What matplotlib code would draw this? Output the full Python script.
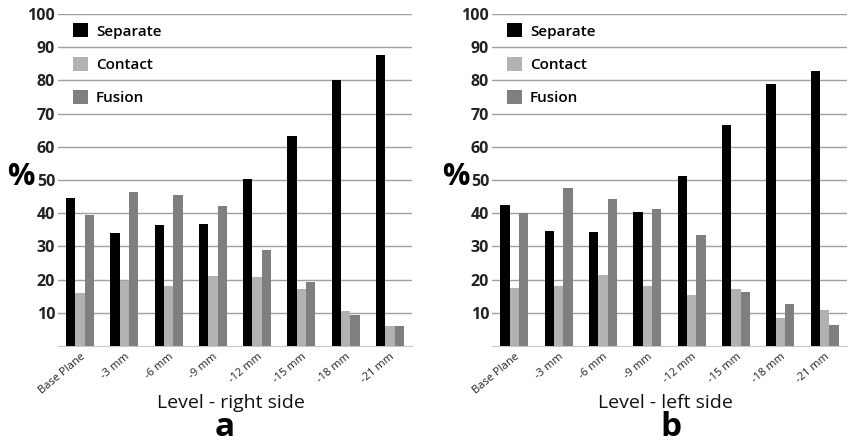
import numpy as np
import matplotlib
matplotlib.use("Agg")
import matplotlib.pyplot as plt

levels = ["Base Plane", "-3 mm", "-6 mm", "-9 mm", "-12 mm", "-15 mm", "-18 mm", "-21 mm"]
series = ["Separate", "Contact", "Fusion"]
colors = ["#000000", "#b2b2b2", "#7f7f7f"]

right_separate = [44.5, 34.0, 36.5, 36.8, 50.2, 63.2, 80.0, 87.7]
right_contact = [16.0, 19.5, 18.0, 21.0, 20.8, 17.3, 10.6, 6.1]
right_fusion = [39.5, 46.5, 45.5, 42.2, 28.9, 19.4, 9.4, 6.1]

left_separate = [42.5, 34.5, 34.2, 40.4, 51.1, 66.5, 79.0, 82.9]
left_contact = [17.5, 18.0, 21.5, 18.2, 15.5, 17.3, 8.4, 10.7]
left_fusion = [40.0, 47.5, 44.2, 41.4, 33.4, 16.2, 12.6, 6.4]

plt.rcParams['font.family'] = ['Open Sans', 'DejaVu Sans']

fig = plt.figure(figsize=(8.48, 4.42), dpi=100)
W, H = 848, 442

# (axes left px, axes right px, x label, letter, letter x px, % x px, data)
panels = [
    (58, 412, "Level - right side", "a", 225, 21, [right_separate, right_contact, right_fusion]),
    (492, 847, "Level - left side", "b", 671, 456, [left_separate, left_contact, left_fusion]),
]

y_top, y_bot = 14, 346
x = np.arange(len(levels))
bw = 0.21

for x0, x1, xlabel, letter, lx, px, data in panels:
    ax = fig.add_axes([x0 / W, 1 - y_bot / H, (x1 - x0) / W, (y_bot - y_top) / H])
    for k, (vals, name, col) in enumerate(zip(data, series, colors)):
        ax.bar(x + (k - 1) * bw, vals, width=bw, color=col, label=name, zorder=3)
    ax.set_xlim(-0.5, len(levels) - 0.5)
    ax.set_ylim(0, 100)
    ax.set_yticks(range(10, 101, 10))
    ax.set_yticklabels([str(v) for v in range(10, 101, 10)], fontsize=11.5,
                       fontweight='bold', color='#222222')
    ax.set_xticks(x)
    ax.set_xticklabels(levels, rotation=40, ha='right', rotation_mode='anchor',
                       fontsize=8, color='#222222')
    ax.tick_params(axis='y', length=0, pad=2)
    ax.tick_params(axis='x', length=0, pad=4)
    ax.grid(axis='y', color='#a0a0a0', linewidth=1, zorder=0)
    for s in ["top", "right", "left"]:
        ax.spines[s].set_visible(False)
    ax.spines["bottom"].set_color('#c8c8c8')
    fig.text((x0 + x1) / 2 / W - 0.005, 1 - 403 / H, xlabel, fontsize=14,
             color='#111111', ha='center', va='center')
    fig.text(px / W, 1 - 177 / H, "%", fontsize=22, fontweight='bold',
             ha='center', va='center')
    fig.text(lx / W, 1 - 427 / H, letter, fontsize=24, fontweight='bold',
             ha='center', va='center')
    ax.legend(loc='upper left', bbox_to_anchor=(0.025, 0.99), frameon=False,
              handlelength=1.0, handleheight=1.0,
              labelspacing=1.2, handletextpad=0.5, borderaxespad=0.0,
              prop={'weight': 'semibold', 'size': 11})

fig.savefig("out.png", dpi=100)
